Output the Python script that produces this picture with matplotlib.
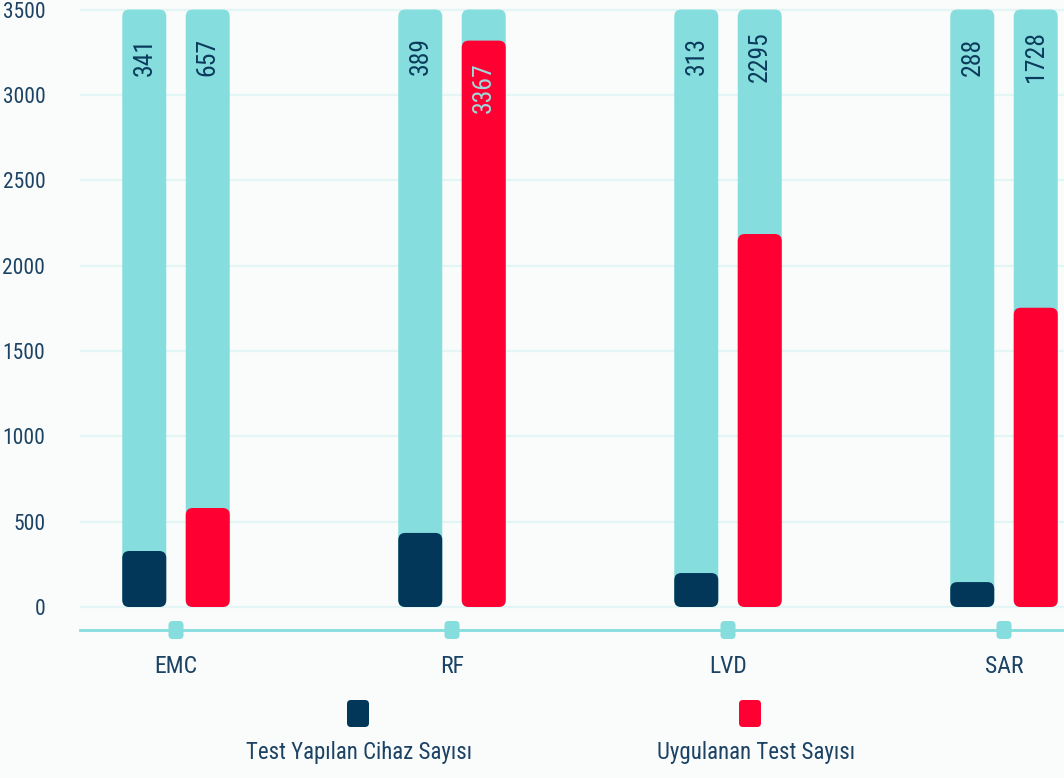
import matplotlib
matplotlib.use("Agg")
import matplotlib.pyplot as plt
from matplotlib import font_manager
from matplotlib.patches import FancyBboxPatch, BoxStyle
import numpy as np

_avail = {f.name for f in font_manager.fontManager.ttflist}
_cands = ['Liberation Sans Narrow', 'DejaVu Sans Condensed', 'Roboto Condensed',
          'Open Sans Condensed', 'Lato', 'Roboto']
_font = next((c for c in _cands if c in _avail), 'DejaVu Sans')
plt.rcParams['font.family'] = [_font, 'DejaVu Sans']
_narrow = _font in ('Liberation Sans Narrow', 'Roboto Condensed', 'Open Sans Condensed')

# ---- data ----
categories = ["EMC", "RF", "LVD", "SAR"]
device_labels = [341, 389, 313, 288]          # Test Yapılan Cihaz Sayısı (printed values)
test_labels = [657, 3367, 2295, 1728]         # Uygulanan Test Sayısı (printed values)
device_bars = [328, 434, 199, 146]            # bar heights as drawn in the reference
test_bars = [580, 3318, 2185, 1753]
background_max = 3500
y_ticks = [0, 500, 1000, 1500, 2000, 2500, 3000, 3500]
legend_names = ["Test Yapılan Cihaz Sayısı", "Uygulanan Test Sayısı"]

# ---- style ----
TEAL = "#85dedd"
NAVY = "#02375a"
RED = "#ff0033"
TEXT = "#1c4264"
GRID = "#e3f5f4"
BG = "#f9fcfb"

k = 1.0 if _narrow else 0.88   # font-size scale depending on font width

W, H = 1064, 778
fig = plt.figure(figsize=(W / 100, H / 100), dpi=100, facecolor=BG)
ax = fig.add_axes([80 / W, 1 - 630 / H, 1 - 80 / W, (630 - 2) / H])
ax.set_facecolor(BG)

px_per_x = 276.0
px_per_y = 0.1707
ymin = -(630 - 607) / px_per_y
ymax = (607 - 2) / px_per_y
ax.set_xlim(-96 / px_per_x, 888 / px_per_x)
ax.set_ylim(ymin, ymax)

asp = (1 / px_per_y) / (1 / px_per_x)
r = 7 / px_per_x
bw = 44 / px_per_x
off = 0.115


def rbar(xc, h, color, z, rs=r):
    p = FancyBboxPatch((xc - bw / 2, 0), bw, h,
                       boxstyle=BoxStyle.Round(pad=0, rounding_size=rs),
                       mutation_aspect=asp, fc=color, ec="none", zorder=z)
    ax.add_patch(p)


x = np.arange(len(categories))
for i in range(len(categories)):
    for xc, hb, lab, col in [(x[i] - off, device_bars[i], device_labels[i], NAVY),
                             (x[i] + off, test_bars[i], test_labels[i], RED)]:
        rbar(xc, background_max, TEAL, 2)
        rbar(xc, hb, col, 3)
        if hb > 3000:
            ly, tc = hb - 275, "#9fd9dc"
        else:
            ly, tc = background_max - 275, "#0b3a5c"
        ax.text(xc, ly, str(lab), rotation=90, ha="center", va="center",
                fontsize=18.5 * k, color=tc, zorder=4)

# grid
for yt in y_ticks:
    ax.axhline(yt, color=GRID, lw=1.6, zorder=1)

for s in ["top", "right", "left"]:
    ax.spines[s].set_visible(False)
ax.spines["bottom"].set_color(TEAL)
ax.spines["bottom"].set_linewidth(2)

ax.set_yticks(y_ticks)
ax.set_yticklabels([str(v) for v in y_ticks], fontsize=15.5 * k, color=TEXT)
ax.tick_params(axis="y", length=0, pad=25)
ax.set_xticks(x)
ax.set_xticklabels(categories, fontsize=17 * k, color=TEXT)
ax.tick_params(axis="x", length=0, pad=18)

# small rounded tick markers on the axis line
mw = 15 / px_per_x
mh = 18 / px_per_y
for xi in x:
    p = FancyBboxPatch((xi - mw / 2, ymin - mh / 2), mw, mh,
                       boxstyle=BoxStyle.Round(pad=0, rounding_size=4 / px_per_x),
                       mutation_aspect=asp, fc=TEAL, ec="none", zorder=5, clip_on=False)
    ax.add_patch(p)

# legend
lax = fig.add_axes([0, 0, 1, 1], facecolor="none")
lax.set_xlim(0, W)
lax.set_ylim(H, 0)
lax.axis("off")
for cx, tx, col, name in [(358, 359, NAVY, legend_names[0]), (750, 756, RED, legend_names[1])]:
    lax.add_patch(FancyBboxPatch((cx - 11, 700), 22, 27,
                                 boxstyle=BoxStyle.Round(pad=0, rounding_size=4),
                                 fc=col, ec="none"))
    lax.text(tx, 752, name, ha="center", va="center", fontsize=16.5 * k, color=TEXT)

fig.savefig("out.png", dpi=100, facecolor=BG)
